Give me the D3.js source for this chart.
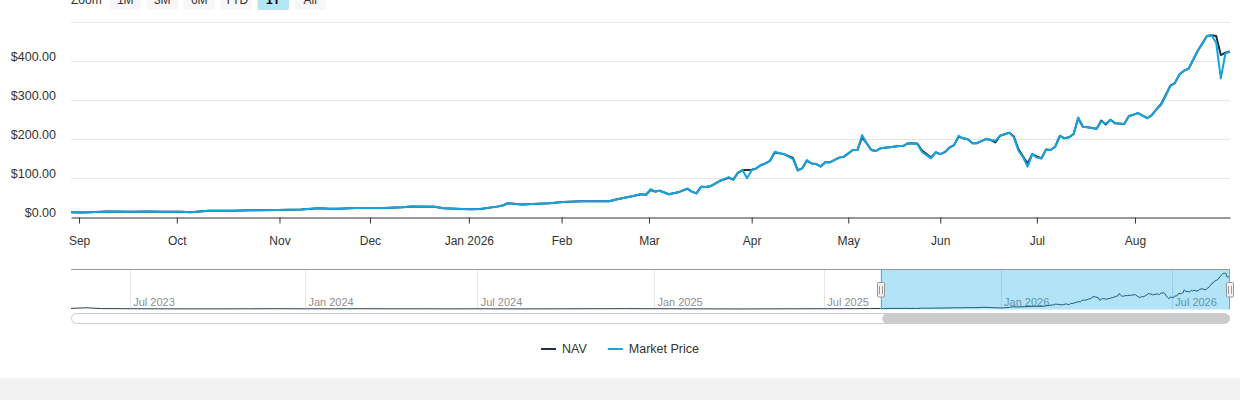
<!DOCTYPE html>
<html><head><meta charset="utf-8">
<script src="https://cdn.jsdelivr.net/npm/d3@7"></script>
<style>
html,body{margin:0;padding:0;background:#fff;overflow:hidden;}
svg{display:block;font-family:"Liberation Sans",Arial,Helvetica,sans-serif;}
</style></head><body>
<svg id="chart" width="1240" height="400"></svg>
<script>
// ---------- data ----------
const dates = ["2025-08-28","2025-09-02","2025-09-04","2025-09-10","2025-09-17","2025-09-23","2025-09-26","2025-10-02","2025-10-06","2025-10-10",
"2025-10-17","2025-10-23","2025-10-31","2025-11-07","2025-11-13","2025-11-17","2025-11-19","2025-11-25","2025-12-01","2025-12-04",
"2025-12-10","2025-12-12","2025-12-19","2025-12-23","2025-12-30","2026-01-02","2026-01-06","2026-01-12","2026-01-13","2026-01-14",
"2026-01-20","2026-01-28","2026-02-02","2026-02-06","2026-02-17","2026-02-19","2026-02-24","2026-02-26","2026-02-27","2026-03-02",
"2026-03-03","2026-03-04","2026-03-06","2026-03-10","2026-03-12","2026-03-13","2026-03-16","2026-03-17","2026-03-18","2026-03-19",
"2026-03-23","2026-03-25","2026-03-26","2026-03-27","2026-03-30","2026-03-31","2026-04-01","2026-04-02","2026-04-06","2026-04-07",
"2026-04-08","2026-04-09","2026-04-13","2026-04-15","2026-04-16","2026-04-17","2026-04-20","2026-04-21","2026-04-22","2026-04-23",
"2026-04-24","2026-04-27","2026-04-29","2026-04-30","2026-05-04","2026-05-05","2026-05-06","2026-05-07","2026-05-08","2026-05-11",
"2026-05-12","2026-05-14","2026-05-18","2026-05-19","2026-05-20","2026-05-22","2026-05-26","2026-05-28","2026-05-29","2026-06-01",
"2026-06-02","2026-06-03","2026-06-04","2026-06-05","2026-06-08","2026-06-09","2026-06-10","2026-06-11","2026-06-15","2026-06-16",
"2026-06-17","2026-06-18","2026-06-22","2026-06-23","2026-06-24","2026-06-25","2026-06-26","2026-06-29","2026-06-30","2026-07-01",
"2026-07-02","2026-07-06","2026-07-07","2026-07-08","2026-07-09","2026-07-10","2026-07-13","2026-07-14","2026-07-15","2026-07-16",
"2026-07-17","2026-07-21","2026-07-22","2026-07-23","2026-07-24","2026-07-27","2026-07-29","2026-07-30","2026-08-03","2026-08-04",
"2026-08-05","2026-08-06","2026-08-07","2026-08-10","2026-08-11","2026-08-12","2026-08-13","2026-08-14","2026-08-17","2026-08-18",
"2026-08-19","2026-08-20","2026-08-21","2026-08-24","2026-08-25","2026-08-26","2026-08-27","2026-08-28","2026-08-31"];

const priceValues = [13,12,13,15,14,15,14,14,13,17,
17,18,19,20,24,22,22,24,24,24,
26,28,27,23,21,20.5,21,28,31,36,
33,36,39.5,41,41,47,54,60,57,72.5,
66,68,59,64,74,66,61.5,78.5,77.7,79.5,
93,103,95.6,114,121,100,121,125,134,138,
145,168,162,149,119.5,125.6,147,138,136.7,130,
141,141,153,155,172.6,172.6,211,190,172.6,170,
177,179.5,183,183,190,188,168,151,166.7,162,
167,178.5,185,209,202.5,200,190,190,201,198,
196,209,213,217,205,171,154,130,162,153,
151,174,172.6,181,209,202.5,205,213.6,256,232,
231,227,246,240,250,241,239,259,267,260.5,
254,262,277,288,311,337,344,366,376,381,
404,427,446,465,467,447,356,420,425];

const navValues = [13,12,13,15,14,15,14,14,13,17,
17,18,19,20,23,22,22,24,24,24,
26,28,27,23,21,20.5,21,28,31,36,
33,36,39.5,41,41,47,54,59,58,70,
66,68,59,64,73,66,61.5,78.5,77.7,79.5,
93,101,97,114,121,121,122,125,134,138,
145,166,162,152,121,125.6,145,138,136.7,130,
141,141,153,155,172.6,172.6,205,190,172.6,170,
177,179.5,183,183,190,189,172,153,166.7,162,
167,178.5,185,207,202.5,200,190,190,201,198,
192,209,213,217,207,175,156,138,162,156,
151,174,172.6,181,209,202.5,205,213.6,254,232,
231,227,248,238,250,241,239,259,267,260.5,
254,262,277,290,313,337,344,366,376,381,
404,427,446,465,467,465,416,422,425];

// earlier NAV history shown only in the navigator
const historyDates = ["2023-05-01","2023-05-16","2023-06-01","2023-07-03","2023-08-01","2023-09-01","2023-10-02","2023-11-01","2023-12-01",
"2024-01-02","2024-02-01","2024-03-01","2024-04-01","2024-05-01","2024-06-03","2024-07-01","2024-08-01","2024-09-03","2024-10-01",
"2024-11-01","2024-12-02","2025-01-02","2025-02-03","2025-03-03","2025-04-01","2025-05-01","2025-06-02","2025-07-01","2025-08-01"];
const historyNav = [14,22,12,10,9,8,8,9,10,
9,9,10,9,9,8,9,8,8,9,
10,11,10,9,8,7,8,9,10,11];

const holidays = ["2023-05-29","2023-06-19","2023-07-04","2023-09-04","2023-11-23","2023-12-25","2024-01-01","2024-01-15","2024-02-19",
"2024-03-29","2024-05-27","2024-06-19","2024-07-04","2024-09-02","2024-11-28","2024-12-25","2025-01-01","2025-01-09","2025-01-20",
"2025-02-17","2025-04-18","2025-05-26","2025-06-19","2025-07-04","2025-09-01","2025-11-27","2025-12-25","2026-01-01","2026-01-19",
"2026-02-16","2026-04-03","2026-05-25","2026-06-19","2026-07-03"];

const yTicks = [0,100,200,300,400,500];
const yLabelTicks = [0,100,200,300,400];
const zoomButtons = ["1M","3M","6M","YTD","1Y","All"];
const selectedButton = "1Y";
const seriesNames = ["NAV","Market Price"];
const rangeStart = "2025-08-28", rangeEnd = "2026-08-31", navigatorStart = "2023-05-01";

// ---------- styles ----------
const NAV_COLOR = "#22303d", PRICE_COLOR = "#15a4e0";
const L = 71, R = 1230, TOP = 22.3, BOTTOM = 217.3;
const NTOP = 269.5, NBOT = 309.5;

// ---------- helpers ----------
const parse = d3.utcParse("%Y-%m-%d");
const fmt = d3.utcFormat("%Y-%m-%d");
const holidaySet = new Set(holidays);
function tradingDays(s, e) {
  return d3.utcDays(parse(s), d3.utcDay.offset(parse(e), 1))
    .filter(d => d.getUTCDay() % 6 !== 0 && !holidaySet.has(fmt(d)));
}
function ordinal(cal) {
  const t = cal.map(d => +d);
  return d => {
    const v = +d, i = d3.bisectLeft(t, v);
    if (i < t.length && t[i] === v) return i;
    if (i === 0) return 0;
    if (i >= t.length) return t.length - 1;
    return i - 1 + (v - t[i - 1]) / (t[i] - t[i - 1]);
  };
}

const svg = d3.select("#chart");
const mainCal = tradingDays(rangeStart, rangeEnd);
const pos = ordinal(mainCal);
const x = d3.scaleLinear().domain([0, mainCal.length - 1]).range([L, R]);
const y = d3.scaleLinear().domain([0, 500]).range([BOTTOM, TOP]);
const crisp = v => Math.round(v) + 0.5;

// ---------- range selector ----------
const rs = svg.append("g");
rs.append("text").attr("x", L).attr("y", 4).attr("font-size", 12).attr("fill", "#333").text("Zoom");
zoomButtons.forEach((b, i) => {
  const bx = 109.5 + i * 37, sel = b === selectedButton;
  rs.append("rect").attr("x", bx).attr("y", -10).attr("width", 31.5).attr("height", 20).attr("rx", 2)
    .attr("fill", sel ? "#b3e5f7" : "#f7f7f7");
  rs.append("text").attr("x", bx + 15.75).attr("y", 4).attr("text-anchor", "middle").attr("font-size", 12)
    .attr("font-weight", sel ? "bold" : "normal").attr("fill", sel ? "#000" : "#333").text(b);
});

// ---------- grid ----------
svg.append("g").selectAll("line").data(yTicks.filter(v => v > 0)).join("line")
  .attr("x1", L).attr("x2", R).attr("y1", d => crisp(y(d))).attr("y2", d => crisp(y(d)))
  .attr("stroke", "#e6e6e6").attr("stroke-width", 1);

// y axis labels
const yAxis = svg.append("g").attr("transform", `translate(${L},0)`)
  .call(d3.axisLeft(y).tickValues(yLabelTicks).tickSize(0).tickPadding(15)
    .tickFormat(d => "$" + d3.format(",.2f")(d)));
yAxis.select(".domain").remove();
yAxis.selectAll("text").attr("font-family", "Liberation Sans, Arial, sans-serif")
  .attr("font-size", 12.5).attr("fill", "#333").attr("dy", "-0.1em");

// x axis
const months = d3.utcMonths(parse(rangeStart), parse(rangeEnd));
const monthFmt = d => d.getUTCMonth() === 0 ? d3.utcFormat("%b %Y")(d) : d3.utcFormat("%b")(d);
const xAxis = svg.append("g").attr("transform", `translate(0,${crisp(BOTTOM)})`)
  .call(d3.axisBottom(x).tickValues(months.map(pos)).tickSize(6).tickSizeOuter(0).tickPadding(12.5)
    .tickFormat((d, i) => monthFmt(months[i])));
xAxis.select(".domain").attr("stroke", "#333");
xAxis.selectAll(".tick line").attr("stroke", "#333");
xAxis.selectAll("text").attr("font-family", "Liberation Sans, Arial, sans-serif")
  .attr("font-size", 12).attr("fill", "#333");

// ---------- series ----------
const pts = vals => dates.map((d, i) => [pos(parse(d)), vals[i]]);
const line = d3.line().x(d => x(d[0])).y(d => y(d[1]));
svg.append("path").attr("d", line(pts(navValues))).attr("fill", "none")
  .attr("stroke", NAV_COLOR).attr("stroke-width", 2).attr("stroke-linejoin", "round");
svg.append("path").attr("d", line(pts(priceValues))).attr("fill", "none")
  .attr("stroke", PRICE_COLOR).attr("stroke-width", 2).attr("stroke-linejoin", "round");

// ---------- navigator ----------
const navCal = tradingDays(navigatorStart, rangeEnd);
const npos = ordinal(navCal);
const xn = d3.scaleLinear().domain([0, navCal.length - 1]).range([L, R]);
const yn = d3.scaleLinear().domain([0, 515]).range([NBOT, NTOP]);
const nav = svg.append("g");
const halfYears = d3.utcMonths(parse(navigatorStart), parse(rangeEnd)).filter(d => d.getUTCMonth() % 6 === 0);
nav.selectAll("line.g").data(halfYears).join("line").attr("class", "g")
  .attr("x1", d => crisp(xn(npos(d)))).attr("x2", d => crisp(xn(npos(d))))
  .attr("y1", NTOP).attr("y2", NBOT).attr("stroke", "#e6e6e6");
nav.selectAll("text").data(halfYears).join("text")
  .attr("x", d => xn(npos(d)) + 3.5).attr("y", 305.5).attr("font-size", 11).attr("fill", "#8f8f8f")
  .text(d => d3.utcFormat("%b %Y")(d));
const navPts = historyDates.map((d, i) => [npos(parse(d)), historyNav[i]])
  .concat(dates.map((d, i) => [npos(parse(d)), navValues[i]]));
const nline = d3.line().x(d => xn(d[0])).y(d => yn(d[1]));
nav.append("path").attr("d", nline(navPts)).attr("fill", "none").attr("stroke", "#2c3e50").attr("stroke-width", 1);

const selL = xn(npos(parse(rangeStart))), selR = xn(npos(parse(rangeEnd)));
nav.append("rect").attr("x", selL).attr("y", NTOP).attr("width", selR - selL).attr("height", NBOT - NTOP)
  .attr("fill", "rgba(0,161,224,0.3)");
nav.append("path")
  .attr("d", `M${L},${NTOP}H${R}M${crisp(selL)},${NTOP}V${NBOT}M${crisp(selR) - 1},${NTOP}V${NBOT}`)
  .attr("stroke", "#999").attr("fill", "none");
[selL, selR].forEach(hx => {
  const cx = Math.round(hx);
  nav.append("rect").attr("x", cx - 3.5).attr("y", 282.5).attr("width", 7).attr("height", 14.5).attr("rx", 1)
    .attr("fill", "#f2f2f2").attr("stroke", "#999");
  nav.append("path").attr("d", `M${cx - 1.5},286V294M${cx + 1.5},286V294`).attr("stroke", "#999");
});

// scrollbar
nav.append("rect").attr("x", L + 0.5).attr("y", 313.5).attr("width", R - L - 1).attr("height", 10).attr("rx", 5)
  .attr("fill", "#fff").attr("stroke", "#ccc");
nav.append("rect").attr("x", selL + 1.5).attr("y", 313.5).attr("width", selR - selL - 1.5).attr("height", 10).attr("rx", 5)
  .attr("fill", "#cccccc");

// ---------- legend ----------
const lg = svg.append("g");
let lx = 0;
const colors = [NAV_COLOR, PRICE_COLOR];
seriesNames.forEach((n, i) => {
  lg.append("line").attr("x1", lx).attr("x2", lx + 15).attr("y1", 349).attr("y2", 349)
    .attr("stroke", colors[i]).attr("stroke-width", 2);
  const t = lg.append("text").attr("x", lx + 21).attr("y", 353.3).attr("font-size", 12.5).attr("fill", "#333").text(n);
  lx += 21 + t.node().getComputedTextLength() + 21;
});
const lw = lx - 21;
lg.attr("transform", `translate(${620 - lw / 2},0)`);

// bottom band
svg.append("rect").attr("x", 0).attr("y", 378).attr("width", 1240).attr("height", 22).attr("fill", "#f2f2f2");
</script>
</body></html>
